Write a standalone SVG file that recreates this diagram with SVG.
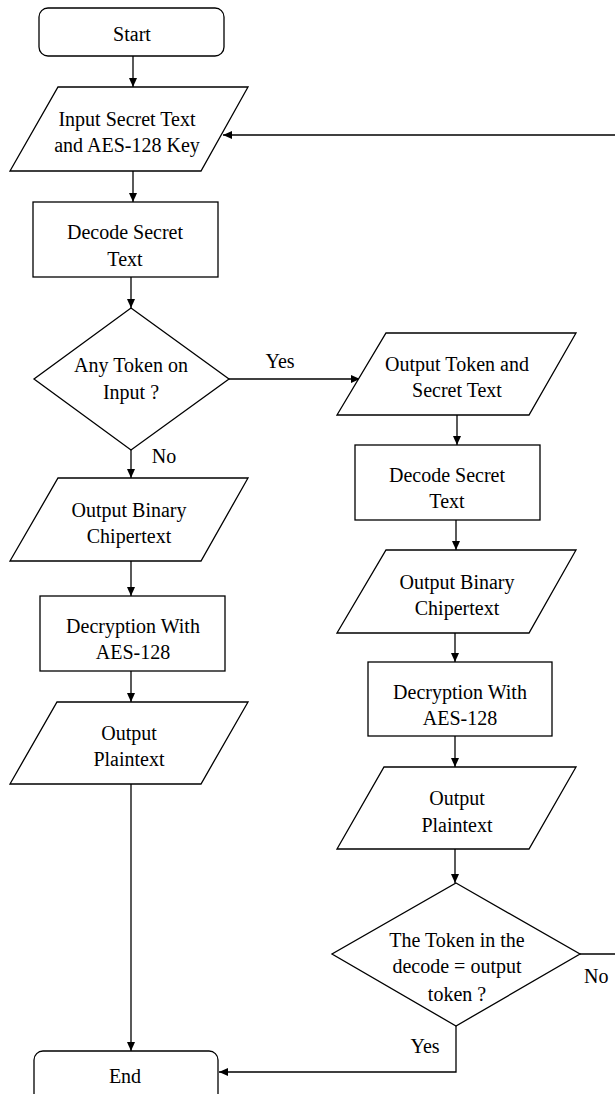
<svg xmlns="http://www.w3.org/2000/svg" width="615" height="1094" viewBox="0 0 615 1094">
<defs>
<marker id="ah" markerWidth="10" markerHeight="8" refX="9" refY="4" orient="auto" markerUnits="userSpaceOnUse">
<path d="M0,0 L9,4 L0,8 Z" fill="#000"/>
</marker>
<style>
.s{fill:#fff;stroke:#000;stroke-width:1.3}
.c{fill:none;stroke:#000;stroke-width:1.3}
text{font-family:'Liberation Serif','DejaVu Serif',serif;font-size:20px;fill:#000}
.t{text-anchor:middle}
</style>
</defs>
<rect width="615" height="1094" fill="#fff"/>
<g id="connectors">
<line class="c" x1="133" y1="56" x2="133" y2="87" marker-end="url(#ah)"/>
<line class="c" x1="615" y1="135" x2="223" y2="135" marker-end="url(#ah)"/>
<line class="c" x1="133" y1="171" x2="133" y2="202" marker-end="url(#ah)"/>
<line class="c" x1="131" y1="277" x2="131" y2="308" marker-end="url(#ah)"/>
<line class="c" x1="229" y1="379" x2="360" y2="379" marker-end="url(#ah)"/>
<line class="c" x1="131" y1="450" x2="131" y2="478" marker-end="url(#ah)"/>
<line class="c" x1="131" y1="561" x2="131" y2="596" marker-end="url(#ah)"/>
<line class="c" x1="131" y1="671" x2="131" y2="702" marker-end="url(#ah)"/>
<line class="c" x1="131" y1="784" x2="131" y2="1051" marker-end="url(#ah)"/>
<line class="c" x1="457" y1="415" x2="457" y2="445" marker-end="url(#ah)"/>
<line class="c" x1="456" y1="520" x2="456" y2="550" marker-end="url(#ah)"/>
<line class="c" x1="455" y1="633" x2="455" y2="662" marker-end="url(#ah)"/>
<line class="c" x1="455" y1="736" x2="455" y2="767" marker-end="url(#ah)"/>
<line class="c" x1="455" y1="849" x2="455" y2="883" marker-end="url(#ah)"/>
<line class="c" x1="580" y1="954" x2="615" y2="954"/>
<polyline class="c" points="456,1026 456,1072 219,1072" marker-end="url(#ah)"/>
<text class="t" x="280" y="368">Yes</text>
<text class="t" x="164" y="463">No</text>
<text x="584" y="983">No</text>
<text class="t" x="425" y="1053">Yes</text>
</g>
<g id="start">
<rect class="s" x="39" y="8" width="185" height="48" rx="9"/>
<text class="t" x="132" y="41">Start</text>
</g>
<g id="input">
<polygon class="s" points="58,87 248,87 201,171 10,171"/>
<text class="t" x="127" y="126">Input Secret Text</text>
<text class="t" x="127" y="152">and AES-128 Key</text>
</g>
<g id="decode1">
<rect class="s" x="33" y="202" width="185" height="75"/>
<text class="t" x="125" y="239">Decode Secret</text>
<text class="t" x="125" y="266">Text</text>
</g>
<g id="anytoken">
<polygon class="s" points="131,308 229,379 131,450 34,379"/>
<text class="t" x="131" y="372">Any Token on</text>
<text class="t" x="131" y="399">Input ?</text>
</g>
<g id="outbin1">
<polygon class="s" points="58,478 248,478 201,561 10,561"/>
<text class="t" x="129" y="517">Output Binary</text>
<text class="t" x="129" y="543">Chipertext</text>
</g>
<g id="decrypt1">
<rect class="s" x="40" y="596" width="185" height="75"/>
<text class="t" x="133" y="633">Decryption With</text>
<text class="t" x="133" y="659">AES-128</text>
</g>
<g id="plain1">
<polygon class="s" points="57,702 248,702 201,784 10,784"/>
<text class="t" x="129" y="740">Output</text>
<text class="t" x="129" y="766">Plaintext</text>
</g>
<g id="end">
<rect class="s" x="34" y="1051" width="184" height="60" rx="9"/>
<text class="t" x="125" y="1083">End</text>
</g>
<g id="outtoken">
<polygon class="s" points="386,333 576,333 529,415 337,415"/>
<text class="t" x="457" y="371">Output Token and</text>
<text class="t" x="457" y="397">Secret Text</text>
</g>
<g id="decode2">
<rect class="s" x="355" y="445" width="185" height="75"/>
<text class="t" x="447" y="482">Decode Secret</text>
<text class="t" x="447" y="508">Text</text>
</g>
<g id="outbin2">
<polygon class="s" points="386,550 576,550 529,633 337,633"/>
<text class="t" x="457" y="589">Output Binary</text>
<text class="t" x="457" y="615">Chipertext</text>
</g>
<g id="decrypt2">
<rect class="s" x="368" y="662" width="184" height="74"/>
<text class="t" x="460" y="699">Decryption With</text>
<text class="t" x="460" y="725">AES-128</text>
</g>
<g id="plain2">
<polygon class="s" points="384,767 576,767 529,849 337,849"/>
<text class="t" x="457" y="805">Output</text>
<text class="t" x="457" y="832">Plaintext</text>
</g>
<g id="tokencheck">
<polygon class="s" points="456,883 580,954 456,1026 332,954"/>
<text class="t" x="457" y="947">The Token in the</text>
<text class="t" x="457" y="973">decode = output</text>
<text class="t" x="457" y="1001">token ?</text>
</g>
</svg>
